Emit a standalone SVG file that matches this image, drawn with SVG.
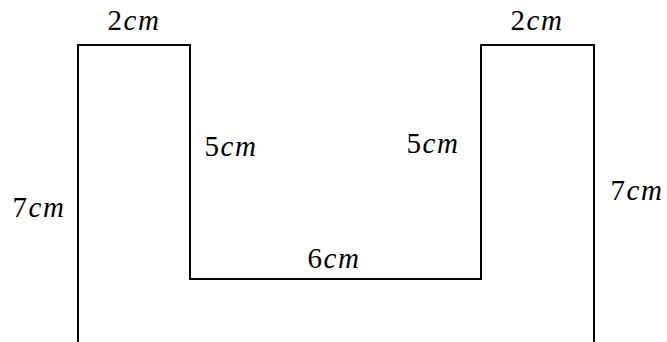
<svg xmlns="http://www.w3.org/2000/svg" width="667" height="342" viewBox="0 0 667 342">
<style>
.l{fill:none;stroke:#000;stroke-width:2}
text{font-family:"Liberation Serif","DejaVu Serif",serif;font-size:29px;letter-spacing:1.5px;fill:#000}
.i{font-style:italic}
</style>
<rect width="667" height="342" fill="#fff"/>
<g id="connectors">
<polyline class="l" points="78,343 78,45 190,45 190,279 481,279 481,45 594,45 594,343"/>
</g>
<g id="labels">
<text id="t-top-left" x="134" y="30" text-anchor="middle">2<tspan class="i">cm</tspan></text>
<text id="t-top-right" x="537" y="30" text-anchor="middle">2<tspan class="i">cm</tspan></text>
<text id="t-left" x="39" y="217" text-anchor="middle">7<tspan class="i">cm</tspan></text>
<text id="t-inner-left" x="231" y="156" text-anchor="middle">5<tspan class="i">cm</tspan></text>
<text id="t-inner-right" x="433" y="153" text-anchor="middle">5<tspan class="i">cm</tspan></text>
<text id="t-bottom" x="334" y="268" text-anchor="middle">6<tspan class="i">cm</tspan></text>
<text id="t-right" x="637" y="200" text-anchor="middle">7<tspan class="i">cm</tspan></text>
</g>
</svg>
